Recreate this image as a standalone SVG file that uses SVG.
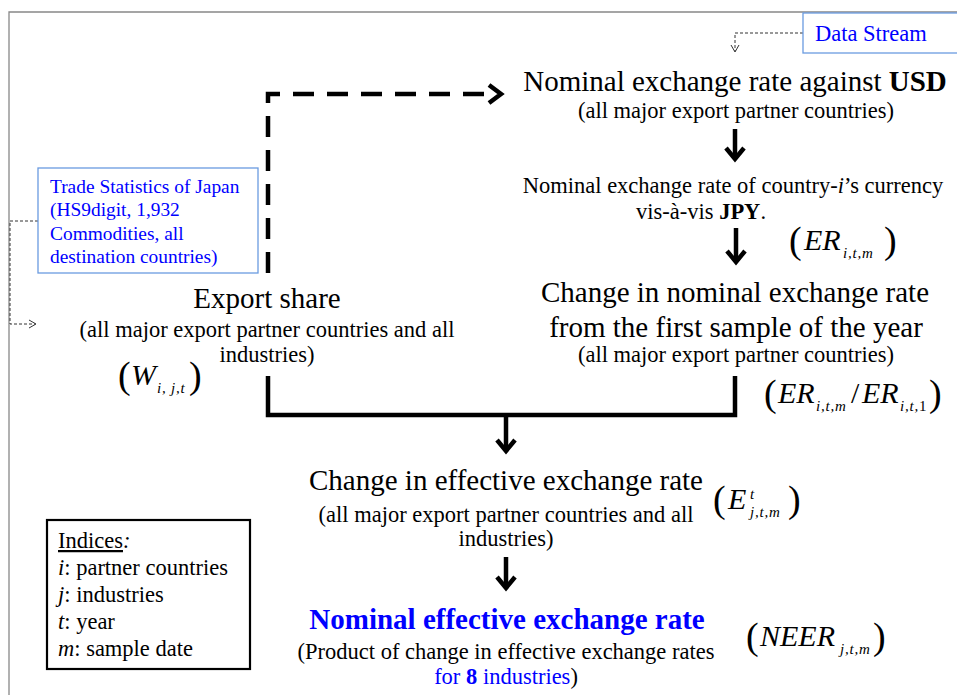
<svg xmlns="http://www.w3.org/2000/svg" width="957" height="695" viewBox="0 0 957 695">
<style>
text{font-family:"Liberation Serif","Times New Roman",serif;fill:#000}
.big{font-size:29px}
.sm{font-size:22.5px}
.blue{fill:#0000ff}
.src{fill:#fff;stroke:#6a9be0;stroke-width:1.3}
.thick{fill:none;stroke:#000;stroke-width:4.5}
.head{fill:none;stroke:#000;stroke-width:4.5;stroke-linejoin:miter}
.dash{fill:none;stroke:#000;stroke-width:4.5;stroke-dasharray:21 13}
.thin{fill:none;stroke:#333;stroke-width:1;stroke-dasharray:3 2}
.thinhead{fill:none;stroke:#333;stroke-width:1}
.m{font-style:italic}
.par{font-size:38px}
.mv{font-size:30px;font-style:italic}
.sub{font-size:15px;font-style:italic;letter-spacing:0.8px}
</style>
<rect width="957" height="695" fill="#fff"/>
<path d="M9,695 V12 H957" fill="none" stroke="#888" stroke-width="1.3"/>

<g id="connectors">
<path class="dash" d="M268,273 V94 H494"/>
<polyline class="head" points="489,85 501,94 489,103"/>
<path class="thin" d="M803,33 H735 V51"/>
<polyline class="thinhead" points="731,45 735,52 739,45"/>
<path class="thin" d="M38,221 H10 V324 H35"/>
<polyline class="thinhead" points="29,320 36,324 29,328"/>
<path class="thick" d="M735,129 V158"/>
<polyline class="head" points="726,148 735,159 744,148"/>
<path class="thick" d="M736,228 V262"/>
<polyline class="head" points="727,251 736,262 745,251"/>
<path class="thick" d="M268,376 V415 H735 V376"/>
<path class="thick" d="M506,415 V451"/>
<polyline class="head" points="497,440 506,451 515,440"/>
<path class="thick" d="M506,557 V588"/>
<polyline class="head" points="497,577 506,588 515,577"/>
</g>

<g id="datastream">
<rect class="src" x="803" y="13" width="160" height="40"/>
<text class="sm blue" x="815" y="41">Data Stream</text>
</g>

<g id="trade">
<rect class="src" x="38" y="168" width="220" height="105"/>
<text class="blue" font-size="19.4" x="50" y="193">Trade Statistics of Japan</text>
<text class="blue" font-size="19.4" x="50" y="216">(HS9digit, 1,932</text>
<text class="blue" font-size="19.4" x="50" y="240">Commodities, all</text>
<text class="blue" font-size="19.4" x="50" y="263">destination countries)</text>
</g>

<g id="usd">
<text class="big" x="735" y="91" text-anchor="middle">Nominal exchange rate against <tspan font-weight="bold">USD</tspan></text>
<text class="sm" x="736" y="118" text-anchor="middle">(all major export partner countries)</text>
</g>

<g id="jpy">
<text class="sm" x="733" y="193" text-anchor="middle">Nominal  exchange rate of country-<tspan class="m">i</tspan>’s currency</text>
<text class="sm" x="636" y="219">vis-à-vis <tspan font-weight="bold">JPY</tspan>.</text>
<text class="par" x="789" y="253">(</text>
<text class="mv" x="804" y="250">ER</text>
<text class="sub" x="843" y="258">i,t,m</text>
<text class="par" x="884" y="253">)</text>
</g>

<g id="change">
<text class="big" x="735" y="302" text-anchor="middle">Change in nominal exchange rate</text>
<text class="big" x="736" y="337" text-anchor="middle">from the first sample of the year</text>
<text class="sm" x="736" y="362" text-anchor="middle">(all major export partner countries)</text>
<text class="par" x="764" y="406">(</text>
<text class="mv" x="778" y="403">ER</text>
<text class="sub" x="816" y="411">i,t,m</text>
<text font-size="30" x="851" y="403">/</text>
<text class="mv" x="862" y="403">ER</text>
<text class="sub" x="900" y="411">i,t,<tspan font-style="normal">1</tspan></text>
<text class="par" x="929" y="406">)</text>
</g>

<g id="export">
<text class="big" x="267" y="308" text-anchor="middle">Export share</text>
<text class="sm" x="267" y="337" text-anchor="middle">(all major export partner countries and all</text>
<text class="sm" x="267" y="362" text-anchor="middle">industries)</text>
<text class="par" x="118" y="388">(</text>
<text class="mv" x="131" y="385">W</text>
<text class="sub" x="157" y="393">i, j,t</text>
<text class="par" x="189" y="388">)</text>
</g>

<g id="effective">
<text class="big" x="506" y="490" text-anchor="middle">Change in effective exchange rate</text>
<text class="sm" x="506" y="522" text-anchor="middle">(all major export partner countries and all</text>
<text class="sm" x="506" y="546" text-anchor="middle">industries)</text>
<text class="par" x="713" y="512">(</text>
<text class="mv" x="728" y="509">E</text>
<text class="sub" x="750" y="499">t</text>
<text class="sub" x="750" y="517">j,t,m</text>
<text class="par" x="788" y="512">)</text>
</g>

<g id="neer">
<text class="big blue" font-weight="bold" x="507" y="629" text-anchor="middle">Nominal effective exchange rate</text>
<text class="sm" x="506" y="659" text-anchor="middle">(Product of change in effective exchange rates</text>
<text class="sm" x="506" y="684" text-anchor="middle"><tspan class="blue">for </tspan><tspan class="blue" font-weight="bold">8</tspan><tspan class="blue"> industries</tspan>)</text>
<text class="par" x="746" y="649">(</text>
<text class="mv" x="760" y="646">NEER</text>
<text class="sub" x="840" y="654">j,t,m</text>
<text class="par" x="873" y="649">)</text>
</g>

<g id="indices">
<rect x="47" y="520" width="203" height="149" fill="#fff" stroke="#000" stroke-width="2.2"/>
<text class="sm" x="58" y="548"><tspan text-decoration="underline">Indices</tspan><tspan class="m">:</tspan></text>
<text class="sm" x="58" y="575"><tspan class="m">i</tspan>: partner countries</text>
<text class="sm" x="58" y="602"><tspan class="m">j</tspan>: industries</text>
<text class="sm" x="58" y="629"><tspan class="m">t</tspan>: year</text>
<text class="sm" x="58" y="656"><tspan class="m">m</tspan>: sample date</text>
</g>
</svg>
